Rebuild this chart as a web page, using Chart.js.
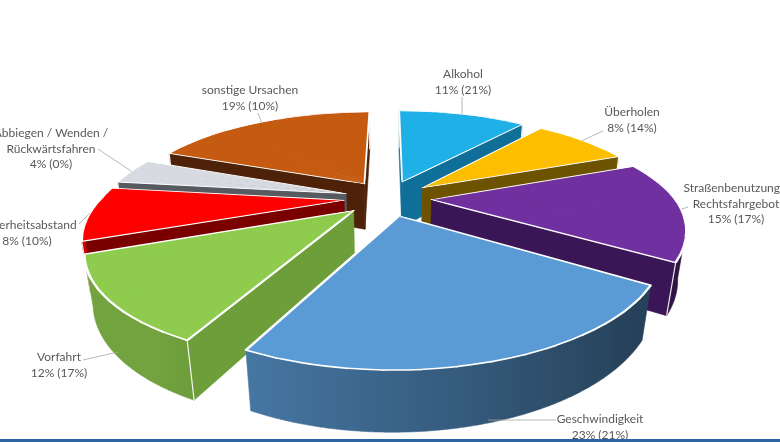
<!DOCTYPE html>
<html>
<head>
<meta charset="utf-8">
<script src="https://cdn.jsdelivr.net/npm/chart.js@4.4.1/dist/chart.umd.min.js"></script>
<style>
html,body{margin:0;padding:0;background:#ffffff;overflow:hidden}
#wrap{position:relative;width:780px;height:442px}
</style>
</head>
<body>
<div id="wrap"><canvas id="c" width="780" height="442"></canvas></div>
<script>
// ---- data ----
const categories = [
  ['Alkohol'],
  ['Überholen'],
  ['Straßenbenutzung /', 'Rechtsfahrgebot'],
  ['Geschwindigkeit'],
  ['Vorfahrt'],
  ['Sicherheitsabstand'],
  ['Abbiegen / Wenden /', 'Rückwärtsfahren'],
  ['sonstige Ursachen']
];
const shares = [11, 8, 15, 23, 12, 8, 4, 19];
const previousShares = [21, 14, 17, 21, 17, 10, 0, 10];

// ---- styles ----
const topColors  = ['#20b0e8', '#fdbf00', '#7030a0', '#5b9bd5', '#8fcc4e', '#fe0000', '#d7dae0', '#c55a11'];
const wallColors = ['#106f98', '#6d5300', '#3a1657', '#2c5077', '#6e9e3a', '#7a0000', '#575b60', '#4e2109'];
const labelLayout = [
  {x: 463, y: 74,  lead: [462, 97],  z: 0},
  {x: 632, y: 112, lead: [603, 131], z: 0},
  {x: 736, y: 188, lead: [688, 207], z: 0},
  {x: 600, y: 419, lead: [556, 420], z: 0.95},
  {x: 59,  y: 357, lead: [83, 360],  z: 0.9},
  {x: 27,  y: 225, lead: [79, 224],  z: 0},
  {x: 51,  y: 133, lead: [98, 149],  z: 0},
  {x: 250, y: 90,  lead: [258, 113], z: 0}
];
const V = {cx: 388, cy: 198, F: 797, D: 3.282, s: 0.407, explode: 0.18, h: 0.217, shear: 11, visDc: 4.5};
V.c = Math.sqrt(1 - V.s * V.s);

function proj(X, Y, Z) {
  const d = V.D - Y * V.c - Z * V.s;
  return [V.cx + V.F * X / d - V.shear * Math.max(0, Y), V.cy + V.F * (Y * V.s - Z * V.c) / d];
}
function P(s, r, t, zf) {
  return proj(s.ex + r * Math.cos(t), s.ey + r * Math.sin(t), -zf * V.h);
}
function rgb(hex) {
  const n = parseInt(hex.slice(1), 16);
  return [(n >> 16) & 255, (n >> 8) & 255, n & 255];
}
function shade(hex, f) {
  const c = rgb(hex).map(v => Math.max(0, Math.min(255, Math.round(v * f))));
  return 'rgb(' + c.join(',') + ')';
}
function affineFor(s, b0, b1, zf) {
  const S0 = [s.x, s.y];
  const u1 = [s.R * Math.cos(b0), s.R * Math.sin(b0)];
  const u2 = [s.R * Math.cos(b1), s.R * Math.sin(b1)];
  const P0 = P(s, 0, 0, zf), P1 = P(s, 1, b0, zf), P2 = P(s, 1, b1, zf);
  const v1 = [P1[0] - P0[0], P1[1] - P0[1]], v2 = [P2[0] - P0[0], P2[1] - P0[1]];
  const det = u1[0] * u2[1] - u2[0] * u1[1];
  const A11 = (v1[0] * u2[1] - v2[0] * u1[1]) / det;
  const A12 = (-v1[0] * u2[0] + v2[0] * u1[0]) / det;
  const A21 = (v1[1] * u2[1] - v2[1] * u1[1]) / det;
  const A22 = (-v1[1] * u2[0] + v2[1] * u1[0]) / det;
  const e = P0[0] - (A11 * S0[0] + A12 * S0[1]);
  const f = P0[1] - (A21 * S0[0] + A22 * S0[1]);
  return [A11, A21, A12, A22, e, f];
}
function poly(ctx, pts) {
  ctx.beginPath();
  ctx.moveTo(pts[0][0], pts[0][1]);
  for (let i = 1; i < pts.length; i++) ctx.lineTo(pts[i][0], pts[i][1]);
  ctx.closePath();
}
function radialWall(ctx, s, a) {
  const pts = [P(s, 0, a, 0), P(s, 1, a, 0), P(s, 1, a, 1), P(s, 0, a, 1)];
  poly(ctx, pts);
  ctx.fillStyle = wallColors[s.i];
  ctx.strokeStyle = wallColors[s.i];
  ctx.lineWidth = 0.6;
  ctx.fill();
  ctx.stroke();
}
function outerWall(ctx, s) {
  const Dc = V.visDc, e = V.explode;
  const n = Math.max(8, Math.ceil((s.a1 - s.a0) / (0.25 * Math.PI / 180)));
  const runs = [];
  let cur = null;
  for (let k = 0; k <= n; k++) {
    const t = s.a0 + (s.a1 - s.a0) * k / n;
    const vis = Dc * Math.sin(t) - (1 + e * Math.cos(t - s.m)) > 0;
    if (vis) { if (!cur) { cur = []; runs.push(cur); } cur.push(t); }
    else cur = null;
  }
  runs.forEach(run => {
    if (run.length < 2) return;
    const top = run.map(t => P(s, 1, t, 0));
    const bot = run.map(t => P(s, 1, t, 1)).reverse();
    poly(ctx, top.concat(bot));
    const xs = top.map(p => p[0]);
    const xmin = Math.min(...xs), xmax = Math.max(...xs);
    let fill;
    const fOf = t => Math.max(0.42, Math.min(0.8, 0.64 - 0.30 * Math.cos(t)));
    if (xmax - xmin < 1) {
      fill = shade(topColors[s.i], fOf(run[0]));
    } else {
      const g = ctx.createLinearGradient(xmin, 0, xmax, 0);
      const st = run.map((t, k) => [(top[k][0] - xmin) / (xmax - xmin), fOf(t)]).sort((a, b) => a[0] - b[0]);
      const stepN = Math.max(1, Math.floor(st.length / 24));
      for (let k = 0; k < st.length; k += stepN) g.addColorStop(st[k][0], shade(topColors[s.i], st[k][1]));
      g.addColorStop(st[st.length - 1][0], shade(topColors[s.i], st[st.length - 1][1]));
      fill = g;
    }
    ctx.fillStyle = fill;
    ctx.strokeStyle = fill;
    ctx.lineWidth = 0.6;
    ctx.fill();
    ctx.stroke();
  });
}
function drawWalls(ctx, s) {
  const Dc = V.visDc, e = V.explode, hw = (s.a1 - s.a0) / 2;
  const edges = [];
  if (-Dc * Math.cos(s.a0) + e * Math.sin(hw) > 0) { radialWall(ctx, s, s.a0); edges.push(s.a0); }
  if (Dc * Math.cos(s.a1) + e * Math.sin(hw) > 0) { radialWall(ctx, s, s.a1); edges.push(s.a1); }
  outerWall(ctx, s);
  ctx.strokeStyle = 'rgba(255,255,255,0.9)';
  ctx.lineWidth = 1.2;
  edges.forEach(a => {
    const p = P(s, 1, a, 0), q = P(s, 1, a, 1);
    ctx.beginPath(); ctx.moveTo(p[0], p[1]); ctx.lineTo(q[0], q[1]); ctx.stroke();
  });
}
function drawTop(ctx, s) {
  const span = s.a1 - s.a0;
  const n = Math.max(1, Math.ceil(span / (6 * Math.PI / 180)));
  for (let k = 0; k < n; k++) {
    const b0 = s.a0 + span * k / n, b1 = s.a0 + span * (k + 1) / n;
    const T = affineFor(s, b0, b1, 0);
    ctx.save();
    ctx.transform(T[0], T[1], T[2], T[3], T[4], T[5]);
    const c0 = b0 - (k === 0 ? 0.08 : 0.004);
    const c1 = b1 + (k === n - 1 ? 0.08 : 0.004);
    const rr = s.R * 1.25 / Math.cos((c1 - c0) / 2);
    const mm = (c0 + c1) / 2;
    ctx.beginPath();
    ctx.moveTo(s.x - 6 * Math.cos(mm), s.y - 6 * Math.sin(mm));
    ctx.lineTo(s.x + rr * Math.cos(c0), s.y + rr * Math.sin(c0));
    ctx.lineTo(s.x + rr * Math.cos(c1), s.y + rr * Math.sin(c1));
    ctx.closePath();
    ctx.clip();
    s.arc.draw(ctx);
    ctx.restore();
  }
}
function drawLabels(chart) {
  const ctx = chart.ctx;
  const slices = chart.$slices || [];
  ctx.save();
  slices.forEach(s => {
    const L = labelLayout[s.i];
    const a = P(s, 1.0, s.m, L.z);
    ctx.strokeStyle = '#a6a6a6';
    ctx.lineWidth = 0.8;
    ctx.beginPath(); ctx.moveTo(a[0], a[1]); ctx.lineTo(L.lead[0], L.lead[1]); ctx.stroke();
    const lines = categories[s.i].concat([shares[s.i] + '% (' + previousShares[s.i] + '%)']);
    ctx.fillStyle = '#595959';
    ctx.font = '12px Lato, "Open Sans", sans-serif';
    ctx.textAlign = 'center';
    ctx.textBaseline = 'middle';
    lines.forEach((ln, j) => ctx.fillText(ln, L.x, L.y + j * 15.7));
  });
  ctx.fillStyle = '#2b65a1';
  ctx.fillRect(0, 439, chart.width, 3);
  ctx.restore();
}

const pie3d = {
  id: 'pie3d',
  beforeDatasetsDraw(chart) {
    const ctx = chart.ctx;
    const meta = chart.getDatasetMeta(0);
    const slices = meta.data.map((arc, i) => {
      const p = arc.getProps(['x', 'y', 'startAngle', 'endAngle', 'outerRadius'], true);
      const m = (p.startAngle + p.endAngle) / 2;
      return {arc, i, x: p.x, y: p.y, a0: p.startAngle, a1: p.endAngle, R: p.outerRadius, m,
              ex: V.explode * Math.cos(m), ey: V.explode * Math.sin(m)};
    });
    chart.$slices = slices;
    const order = slices.slice().sort((p, q) => (p.ey + 0.5 * Math.sin(p.m)) - (q.ey + 0.5 * Math.sin(q.m)));
    order.forEach(s => { drawWalls(ctx, s); drawTop(ctx, s); });
    return false;
  },
  afterDraw(chart) { drawLabels(chart); }
};

new Chart(document.getElementById('c'), {
  type: 'pie',
  data: {
    labels: categories.map(c => c.join(' ')),
    datasets: [{
      data: shares,
      backgroundColor: topColors,
      borderColor: '#ffffff',
      borderWidth: 2
    }]
  },
  options: {
    responsive: false,
    animation: false,
    layout: {padding: 20},
    plugins: {legend: {display: false}, tooltip: {enabled: false}}
  },
  plugins: [pie3d]
});
</script>
</body>
</html>
